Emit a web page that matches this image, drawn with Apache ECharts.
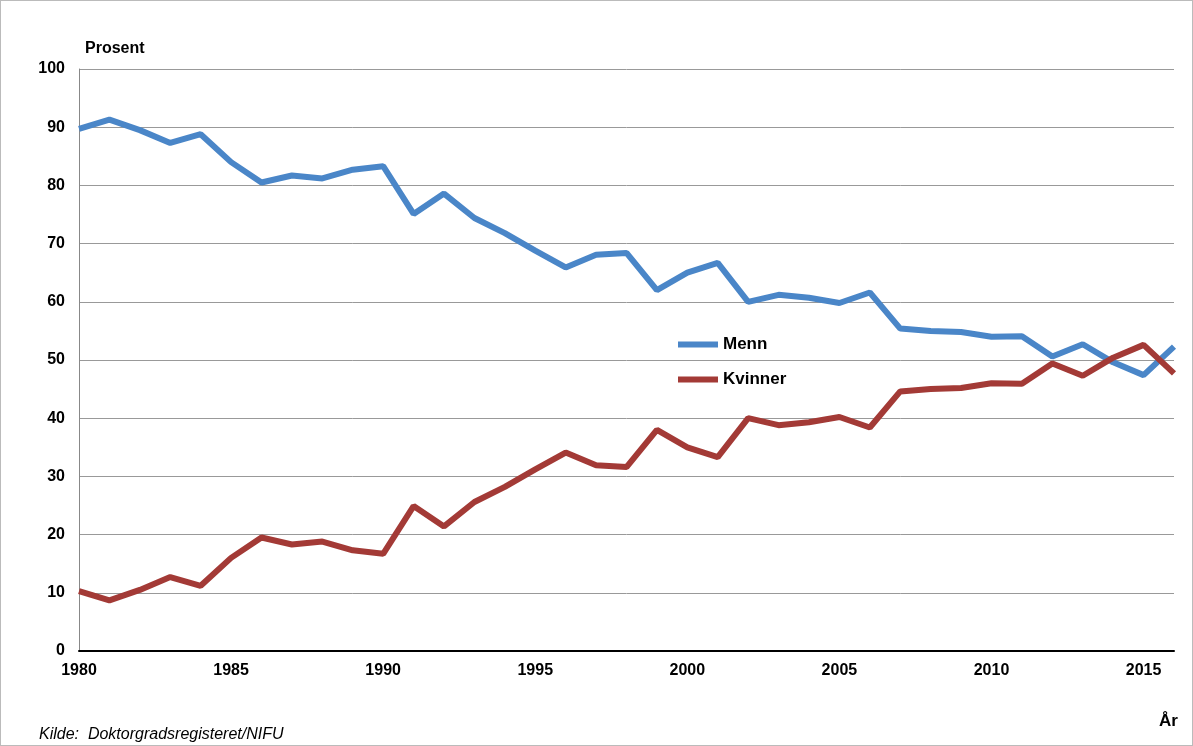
<!DOCTYPE html>
<html><head><meta charset="utf-8">
<script src="https://cdn.jsdelivr.net/npm/echarts@6/dist/echarts.min.js"></script>
<style>html,body{margin:0;padding:0;background:#fff}#c{width:1193px;height:746px;box-sizing:border-box;border:1px solid #bbb}</style>
</head><body><div id="c"></div>
<script>
const years = [];
for (let y = 1980; y <= 2016; y++) years.push(y);
const menn = [89.7,91.3,89.5,87.3,88.8,84.0,80.5,81.7,81.2,82.7,83.3,75.1,78.6,74.4,71.8,68.8,65.9,68.1,68.4,62.0,65.0,66.7,60.0,61.2,60.7,59.8,61.6,55.4,55.0,54.8,54.0,54.1,50.6,52.7,49.6,47.4,52.3];
const kvinner = [10.3,8.7,10.5,12.7,11.2,16.0,19.5,18.3,18.8,17.3,16.7,24.9,21.4,25.6,28.2,31.2,34.1,31.9,31.6,38.0,35.0,33.3,40.0,38.8,39.3,40.2,38.4,44.6,45.0,45.2,46.0,45.9,49.4,47.3,50.4,52.6,47.7];
const ch = echarts.init(document.getElementById('c'));
const f = 'Liberation Sans, Arial, sans-serif';
ch.setOption({
  animation:false,
  grid:{left:78,right:18,top:68,bottom:94},
  legend:{left:672,top:330,orient:'vertical',itemGap:18,itemWidth:40,itemHeight:6,
    icon:'rect',textStyle:{fontFamily:f,fontSize:17,fontWeight:'bold',color:'#000'},
    data:['Menn','Kvinner']},
  graphic:[
    {type:'text',left:84,top:40,style:{text:'Prosent',font:'bold 16px '+f,fill:'#000'}},
    {type:'text',left:1158,top:712,style:{text:'År',font:'bold 17px '+f,fill:'#000'}},
    {type:'text',left:38,top:726,style:{text:'Kilde:  Doktorgradsregisteret/NIFU',font:'italic 16px '+f,fill:'#000'}}
  ],
  xAxis:{type:'value',min:1980,max:2016,interval:5,
    axisLine:{lineStyle:{color:'#000',width:2}},axisTick:{show:false},splitLine:{show:false},
    axisLabel:{fontFamily:f,fontWeight:'bold',fontSize:16,color:'#000',margin:12,formatter:v=>String(v)}},
  yAxis:{type:'value',min:0,max:100,interval:10,
    axisLine:{show:true,lineStyle:{color:'#888'}},axisTick:{show:false},
    splitLine:{lineStyle:{color:'#999',width:1}},
    axisLabel:{fontFamily:f,fontWeight:'bold',fontSize:16,color:'#000',margin:14}},
  series:[
    {name:'Menn',type:'line',showSymbol:false,data:years.map((y,i)=>[y,menn[i]]),
      lineStyle:{color:'#4a86c8',width:6},itemStyle:{color:'#4a86c8'}},
    {name:'Kvinner',type:'line',showSymbol:false,data:years.map((y,i)=>[y,kvinner[i]]),
      lineStyle:{color:'#a33a36',width:6},itemStyle:{color:'#a33a36'}}
  ]
});
</script></body></html>
